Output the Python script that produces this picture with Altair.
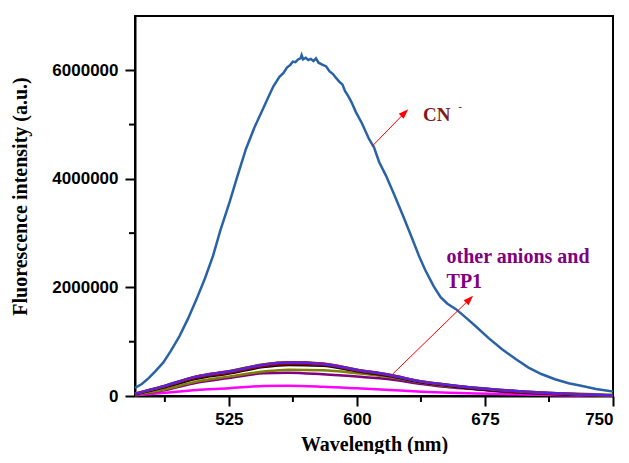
import altair as alt
import pandas as pd

# ---- Data ----
# CN- curve (blue)
cn_wl = [470, 474, 478, 482, 486.5, 491, 496, 501, 506, 511, 515.7, 520, 525.4, 530, 535, 540,
         545, 548, 551, 554.6, 557, 559, 561, 562.5, 564, 565.5, 567, 567.6, 568.5, 570, 571.5,
         573, 574.5, 576, 577.5, 580, 582, 584, 586, 588, 590, 591.5, 593, 595, 597, 599.4, 603,
         607, 610, 613, 617, 622, 627, 632, 636.3, 640, 645, 649, 653, 658, 664, 669.4, 677, 685,
         693, 700.5, 708, 716, 724, 732, 740, 748, 750]
cn_val = [150e3, 220e3, 330e3, 460e3, 615e3, 830e3, 1.10e6, 1.42e6, 1.78e6, 2.17e6, 2.58e6,
          3.05e6, 3.57e6, 4.05e6, 4.55e6, 4.95e6, 5.29e6, 5.50e6, 5.70e6, 5.88e6, 5.95e6, 6.05e6,
          6.10e6, 6.16e6, 6.15e6, 6.20e6, 6.22e6, 6.28e6, 6.20e6, 6.23e6, 6.19e6, 6.21e6, 6.17e6,
          6.22e6, 6.14e6, 6.10e6, 6.07e6, 5.98e6, 5.93e6, 5.85e6, 5.78e6, 5.74e6, 5.62e6, 5.52e6,
          5.40e6, 5.23e6, 5.02e6, 4.74e6, 4.58e6, 4.31e6, 4.06e6, 3.70e6, 3.32e6, 2.93e6, 2.585e6,
          2.32e6, 2.02e6, 1.82e6, 1.70e6, 1.60e6, 1.44e6, 1.29e6, 1.07e6, 862e3, 680e3, 523e3,
          405e3, 308e3, 235e3, 185e3, 130e3, 92e3, 85e3]

# Other anions and TP1 (low cluster), values in thousands; drawn in this order (last on top)
grid_wl = [470, 486, 506, 525, 545, 560, 580, 600, 619, 638, 654, 670, 693, 720, 750]
other_series = ["magenta", "purple", "olive", "black", "darkred", "green", "red", "violet"]
other_colors = ["#ff00ff", "#800080", "#808000", "#000000", "#8b0000", "#00a000", "#ff0000", "#5a20e0"]
other_vals_k = [
    [15, 55, 111, 142, 185, 190, 172, 142, 111, 80, 60, 45, 31, 15, 5],
    [20, 100, 245, 330, 419, 430, 400, 357, 308, 222, 160, 120, 65, 30, 10],
    [25, 111, 265, 357, 450, 485, 475, 420, 350, 245, 175, 145, 85, 50, 25],
    [32, 150, 318, 412, 532, 572, 556, 455, 368, 250, 186, 131, 72, 30, 5],
    [36, 160, 335, 430, 550, 590, 572, 466, 377, 257, 192, 138, 78, 35, 6],
    [43, 176, 362, 456, 580, 622, 596, 484, 391, 267, 205, 150, 94, 46, 10],
    [42, 175, 361, 455, 578, 621, 597, 485, 392, 268, 204, 149, 93, 46, 10],
    [40, 172, 357, 450, 572, 615, 591, 480, 388, 265, 203, 148, 92, 45, 10],
]

x_major = [525, 600, 675, 750]
x_minor = [487.5, 562.5, 637.5, 712.5]
y_major = [0, 2000000, 4000000, 6000000]
y_minor = [1000000, 3000000, 5000000]

# Annotations (data coordinates)
arrow_x = [608.9, 620.8]
arrow_y = [4.60e6, 0.40e6]
arrow_x2 = [628.0, 666.0]
arrow_y2 = [5.217e6, 1.782e6]
label_text = ["CN", "-", "other anions and", "TP1"]
label_x = [638.7, 659.5, 652.5, 652.5]
label_y = [5.065e6, 5.27e6, 2.45e6, 1.99e6]
label_color = ["#7b1c1c", "#5a1a1a", "#800080", "#800080"]
label_size = [19, 10, 20, 20]

W, H = 478, 380

# ---- Build tables ----
cn_df = pd.DataFrame({"wl": cn_wl, "val": cn_val})
rows = []
for s, vals in zip(other_series, other_vals_k):
    for w, v in zip(grid_wl, vals):
        rows.append({"series": s, "wl": w, "val": v * 1000})
oth_df = pd.DataFrame(rows)
arr_df = pd.DataFrame({"x": arrow_x, "y": arrow_y, "x2": arrow_x2, "y2": arrow_y2})
lab_df = pd.DataFrame({"t": label_text, "x": label_x, "y": label_y, "c": label_color, "s": label_size})

xs = alt.Scale(domain=[470, 750], nice=False, zero=False)
ys = alt.Scale(domain=[0, 7000000], nice=False, zero=True)

x_axis = alt.Axis(values=x_major, title="Wavelength (nm)", titleY=54, titleBaseline="alphabetic",
                  labelPadding=5, grid=False)
y_axis = alt.Axis(values=y_major, format="d", title="Fluorescence intensity (a.u.)",
                  titleX=-115, titleY=180, titleAngle=270, titleBaseline="middle",
                  titleAlign="center", labelPadding=7, grid=False)

others = alt.layer(*[
    alt.Chart(oth_df[oth_df.series == s]).mark_line(strokeWidth=2.5, interpolate="monotone", color=c).encode(
        x=alt.X("wl:Q", scale=xs, axis=x_axis),
        y=alt.Y("val:Q", scale=ys, axis=y_axis),
    )
    for s, c in zip(other_series, other_colors)
])

cn_line = alt.Chart(cn_df).mark_line(strokeWidth=2.5, color="#2a62a6").encode(
    x=alt.X("wl:Q", scale=xs), y=alt.Y("val:Q", scale=ys))

arrows = alt.Chart(arr_df).mark_rule(color="#ff0000", strokeWidth=1).encode(
    x="x:Q", y="y:Q", x2="x2:Q", y2="y2:Q")
heads = alt.Chart(arr_df).mark_point(shape="M0,-1L0.7,1L-0.7,1Z", filled=True, size=100,
                                     color="#ff0000", opacity=1, angle=45).encode(
    x=alt.X("x2:Q", scale=xs), y=alt.Y("y2:Q", scale=ys))

labels = alt.Chart(lab_df).mark_text(font="Liberation Serif", fontWeight="bold", align="left",
                                     baseline="alphabetic").encode(
    x=alt.X("x:Q", scale=xs), y=alt.Y("y:Q", scale=ys), text="t:N",
    color=alt.Color("c:N", scale=None), size=alt.Size("s:Q", scale=None))

xminor_df = pd.DataFrame({"v": x_minor})
yminor_df = pd.DataFrame({"v": y_minor})
xminor = alt.Chart(xminor_df).mark_rule(color="black", strokeWidth=2).encode(
    x=alt.X("v:Q", scale=xs), y=alt.value(H), y2=alt.value(H + 6))
yminor = alt.Chart(yminor_df).mark_rule(color="black", strokeWidth=2).encode(
    y=alt.Y("v:Q", scale=ys), x=alt.value(-6), x2=alt.value(0))

chart = alt.layer(others, cn_line, arrows, heads, labels, xminor, yminor).properties(
    width=W, height=H,
    background="white",
    autosize=alt.AutoSizeParams(type="none"),
    padding={"left": 127, "top": 8, "right": 8, "bottom": 58},
).configure_view(stroke="black", strokeWidth=2).configure_axis(
    domainColor="black", domainWidth=2, tickColor="black", tickWidth=2, tickSize=10,
    labelFont="Liberation Sans", labelFontWeight="bold", labelFontSize=17, labelColor="black",
    titleFont="Liberation Serif", titleFontWeight="bold", titleFontSize=20, titleColor="black",
)

chart.save("out.html", embed_options={"renderer": "svg", "actions": False})
